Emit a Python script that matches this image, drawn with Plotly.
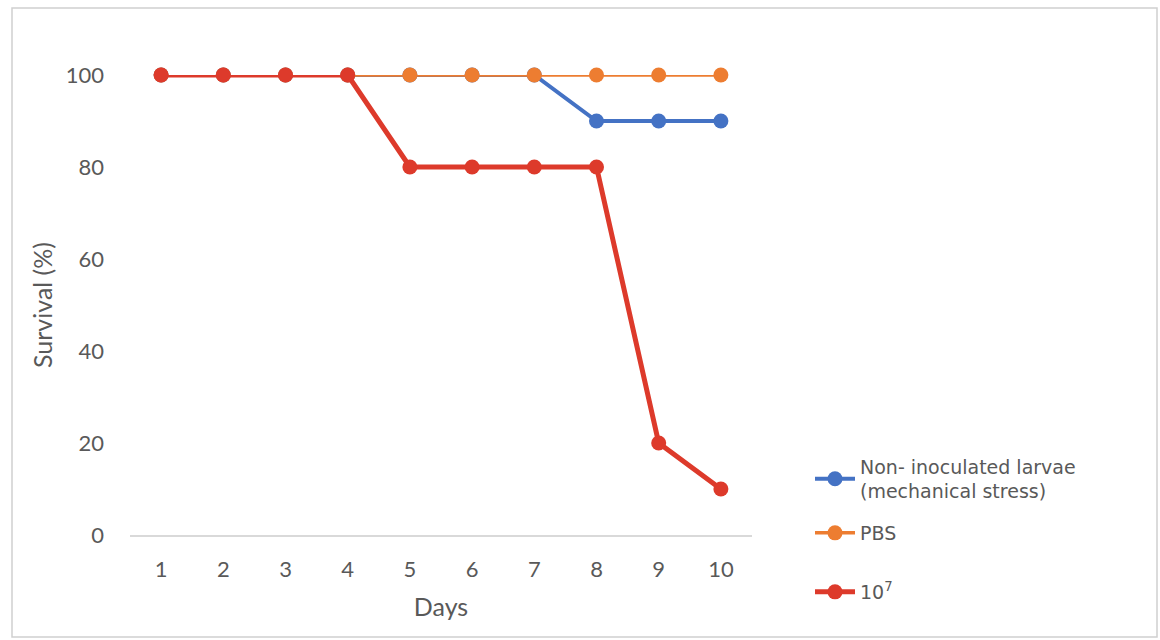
import plotly.graph_objects as go

days = ["1", "2", "3", "4", "5", "6", "7", "8", "9", "10"]
non_inoculated = [100, 100, 100, 100, 100, 100, 100, 90, 90, 90]
pbs = [100, 100, 100, 100, 100, 100, 100, 100, 100, 100]
dose_1e7 = [100, 100, 100, 100, 80, 80, 80, 80, 20, 10]

names = ["Non- inoculated larvae<br>(mechanical stress)", "PBS", "10<sup>7</sup>"]
colors = ["#4472C4", "#ED7D31", "#DD3A2B"]
widths = [4, 3.5, 5]
series = [non_inoculated, pbs, dose_1e7]
legend_ids = ["legend", "legend2", "legend3"]

fig = go.Figure()
for nm, ys, c, w, lg in zip(names, series, colors, widths, legend_ids):
    fig.add_trace(go.Scatter(
        x=days, y=ys, name=nm, mode="lines+markers",
        line=dict(color=c, width=w),
        marker=dict(color=c, size=15),
        legend=lg,
        cliponaxis=False,
    ))

L, R, T, B = 130, 752, 75, 535
W, H = 1160, 640
pw, ph = R - L, B - T

def px(x):
    return (x - L) / pw

def py(y):
    return (B - y) / ph

leg_font = dict(family="DejaVu Sans, sans-serif", size=19, color="#595959")
leg_common = dict(x=px(810), xanchor="left", yanchor="middle", font=leg_font,
                  itemwidth=40, bgcolor="rgba(0,0,0,0)")

fig.update_layout(
    width=W, height=H,
    margin=dict(l=L, r=W - R, t=T, b=H - B, autoexpand=False),
    paper_bgcolor="white", plot_bgcolor="white",
    font=dict(family="Lato, Open Sans, sans-serif", color="#595959"),
    xaxis=dict(
        type="category", showgrid=False, zeroline=False,
        showline=True, linecolor="#D9D9D9", linewidth=2,
        ticks="", tickfont=dict(size=22, color="#595959"),
        ticklabelstandoff=14,
        title=dict(text="Days", font=dict(size=25, color="#595959"), standoff=17),
        range=[-0.5, 9.5], fixedrange=True,
    ),
    yaxis=dict(
        range=[0, 100], tickvals=[0, 20, 40, 60, 80, 100],
        showgrid=False, zeroline=False, showline=False,
        ticks="", tickfont=dict(size=22, color="#595959"),
        ticklabelstandoff=25,
        title=dict(text="Survival (%)", font=dict(size=25, color="#595959"), standoff=5),
    ),
    legend=dict(y=py(479), **leg_common),
    legend2=dict(y=py(533), **leg_common),
    legend3=dict(y=py(592), **leg_common),
    showlegend=True,
)

fig.add_shape(
    type="rect", xref="paper", yref="paper",
    x0=px(12), x1=px(1157), y0=py(637), y1=py(8),
    line=dict(color="#D0D0D0", width=1.5), layer="below",
)

fig.write_html(
    "out.html",
    config={"displayModeBar": False},
    post_script="document.body.style.margin='0';document.body.style.padding='0';",
)
